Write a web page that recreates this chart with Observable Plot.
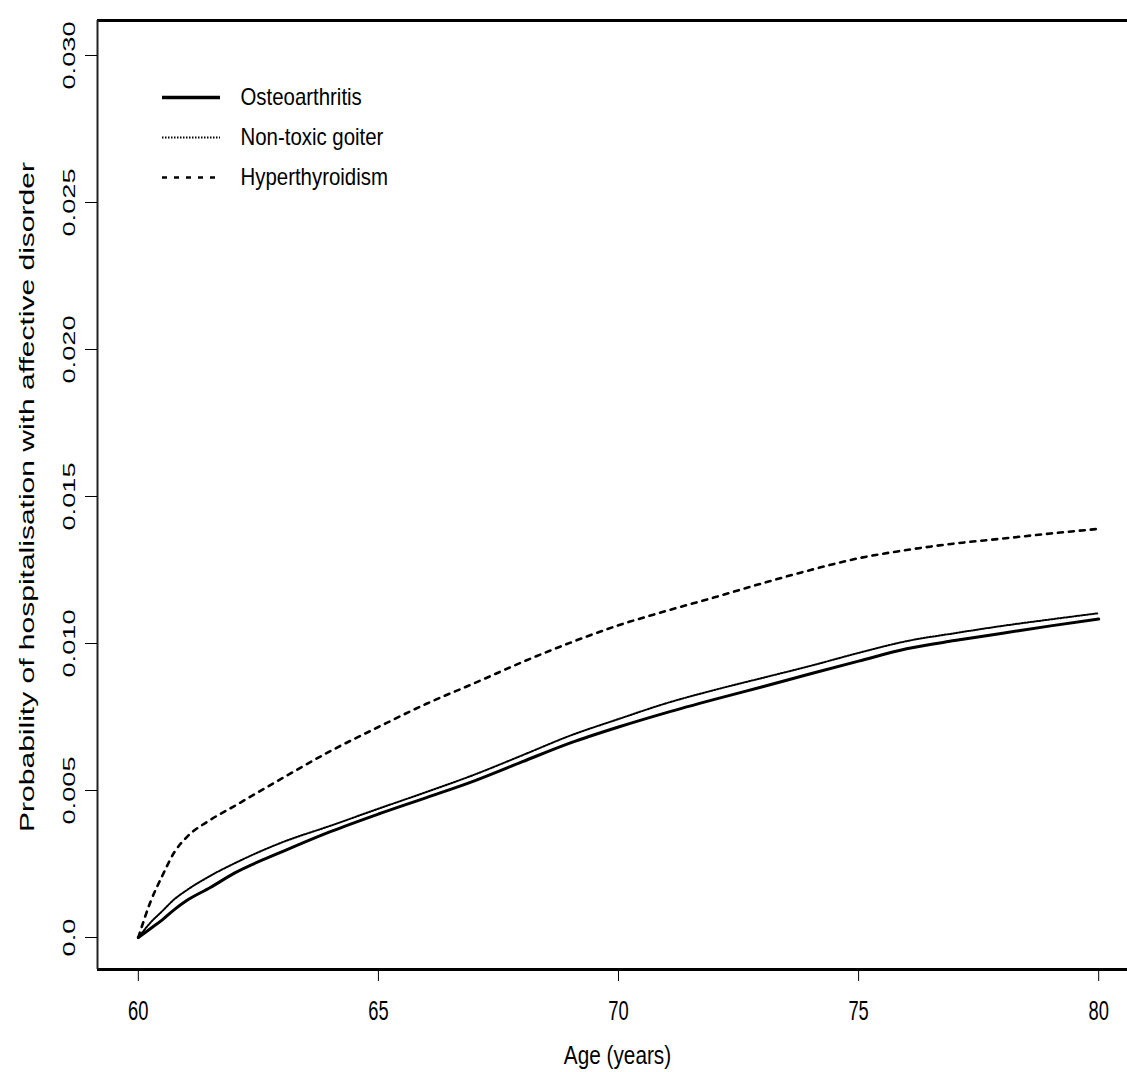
<!DOCTYPE html>
<html>
<head>
<meta charset="utf-8">
<script src="https://cdn.jsdelivr.net/npm/d3@7"></script>
<script src="https://cdn.jsdelivr.net/npm/@observablehq/plot@0.6"></script>
<style>
  html, body { margin: 0; padding: 0; background: #fff; }
  #wrap { position: relative; width: 1127px; height: 1072px; }
  #legend { position: absolute; left: 150px; top: 75px; }
</style>
</head>
<body>
<div id="wrap"><div id="chart"></div><div id="legend"></div></div>
<script>
// ---- data ----
const ages = [60, 60.25, 60.5, 60.75, 61, 61.5, 62, 63, 64, 65, 66, 67, 68, 69, 70, 71, 72, 73, 74, 75, 76, 77, 78, 79, 80];
const osteoarthritis = [0, 0.0003, 0.0006, 0.00095, 0.00125, 0.0017, 0.00219, 0.00292, 0.0036, 0.0042, 0.00476, 0.00533, 0.00598, 0.00662, 0.00716, 0.00765, 0.0081, 0.00853, 0.00897, 0.0094, 0.00982, 0.0101, 0.01035, 0.0106, 0.01083];
const goiter = [0, 0.0005, 0.0009, 0.0013, 0.0016, 0.0021, 0.00252, 0.00324, 0.0038, 0.00438, 0.00495, 0.00554, 0.0062, 0.00687, 0.00743, 0.00797, 0.00842, 0.00883, 0.00924, 0.00968, 0.01008, 0.01035, 0.0106, 0.01082, 0.01103];
const hyperthyroidism = [0, 0.0012, 0.0021, 0.0029, 0.0034, 0.0040, 0.00447, 0.00542, 0.00634, 0.00716, 0.00795, 0.00865, 0.00937, 0.01003, 0.01062, 0.01111, 0.01157, 0.01205, 0.0125, 0.0129, 0.01318, 0.0134, 0.01357, 0.01374, 0.0139];
const seriesNames = ["Osteoarthritis", "Non-toxic goiter", "Hyperthyroidism"];
const xTicks = [60, 65, 70, 75, 80];
const yTicks = [0, 0.005, 0.010, 0.015, 0.020, 0.025, 0.030];
const xDomain = [59.15, 80.6];
const yDomain = [-0.001088, 0.03119];
const xTitle = "Age (years)";
const yTitle = "Probability of hospitalisation with affective disorder";

const rows = (vals) => ages.map((a, i) => ({age: a, p: vals[i]}));
const font = "'Liberation Sans', Arial, Helvetica, sans-serif";

const chart = Plot.plot({
  width: 1127,
  height: 1072,
  marginLeft: 97,
  marginRight: 0,
  marginTop: 20,
  marginBottom: 103,
  style: {fontFamily: font, color: "#000", background: "#fff", overflow: "visible"},
  x: {domain: xDomain, axis: null},
  y: {domain: yDomain, axis: null},
  marks: [
    Plot.ruleY([yDomain[0]], {stroke: "#000", strokeWidth: 3}),
    Plot.ruleY([yDomain[1]], {stroke: "#000", strokeWidth: 3}),
    Plot.ruleX([xDomain[0]], {stroke: "#222", strokeWidth: 2}),
    Plot.axisX({ticks: xTicks, tickSize: 12, tickPadding: 19, fontSize: 27, label: null, stroke: "#000"}),
    Plot.axisY({ticks: yTicks, tickSize: 12, tickPadding: 11, tickRotate: -90, fontSize: 17, label: null,
      tickFormat: d => d === 0 ? "0.0" : d.toFixed(3)}),
    Plot.text([xTitle], {text: d => d, frameAnchor: "bottom", textAnchor: "middle", lineAnchor: "middle",
      dx: 5, dy: 86, fontSize: 25, fill: "#000"}),
    Plot.text([yTitle], {text: d => d, frameAnchor: "left", textAnchor: "middle", lineAnchor: "middle",
      dx: -70, dy: 2, rotate: -90, fontSize: 20, fill: "#000"}),
    Plot.line(rows(hyperthyroidism), {x: "age", y: "p", stroke: "#000", strokeWidth: 2.6, strokeDasharray: "5,6", curve: "monotone-x"}),
    Plot.line(rows(goiter), {x: "age", y: "p", stroke: "#000", strokeWidth: 2, strokeDasharray: "1.5,1.5", curve: "monotone-x"}),
    Plot.line(rows(osteoarthritis), {x: "age", y: "p", stroke: "#000", strokeWidth: 3, curve: "monotone-x"})
  ]
});
document.getElementById("chart").appendChild(chart);

// legend (its own small Plot, overlaid inside the plot area)
const legendStyles = [
  {strokeWidth: 3.5, strokeDasharray: null},
  {strokeWidth: 2, strokeDasharray: "1.5,1.5"},
  {strokeWidth: 2.6, strokeDasharray: "5,7"}
];
const legend = Plot.plot({
  width: 250, height: 125,
  marginLeft: 0, marginRight: 0, marginTop: 0, marginBottom: 0,
  style: {fontFamily: font, background: "transparent", overflow: "visible"},
  x: {domain: [0, 1], range: [12, 70], axis: null},
  y: {type: "point", domain: seriesNames, range: [22, 102], padding: 0, axis: null},
  marks: [
    ...seriesNames.map((n, i) => Plot.ruleY([n], {y: d => d, x1: 0, x2: 1, stroke: "#000",
      strokeWidth: legendStyles[i].strokeWidth, strokeDasharray: legendStyles[i].strokeDasharray})),
    Plot.text(seriesNames, {x: 1, y: d => d, text: d => d, dx: 20, textAnchor: "start", fontSize: 24, fill: "#000"})
  ]
});
document.getElementById("legend").appendChild(legend);

// stretch / squeeze text along its own baseline with textLength
function fit(el, sx) {
  const L = el.getComputedTextLength();
  if (L > 0) {
    el.setAttribute("textLength", (L * sx).toFixed(1));
    el.setAttribute("lengthAdjust", "spacingAndGlyphs");
  }
}
function stretchGroup(root, label, sx) {
  d3.select(root).selectAll(`g[aria-label="${label}"] text`).each(function () { fit(this, sx); });
}
function stretchText(root, strings, sx) {
  d3.select(root).selectAll("text").filter(function () { return strings.includes(this.textContent); })
    .each(function () { fit(this, sx); });
}
stretchGroup(chart, "x-axis tick label", 0.68);
stretchGroup(chart, "y-axis tick label", 1.6);
stretchText(chart, [xTitle], 0.83);
stretchText(chart, [yTitle], 1.5);
stretchText(legend, seriesNames, 0.85);
</script>
</body>
</html>
